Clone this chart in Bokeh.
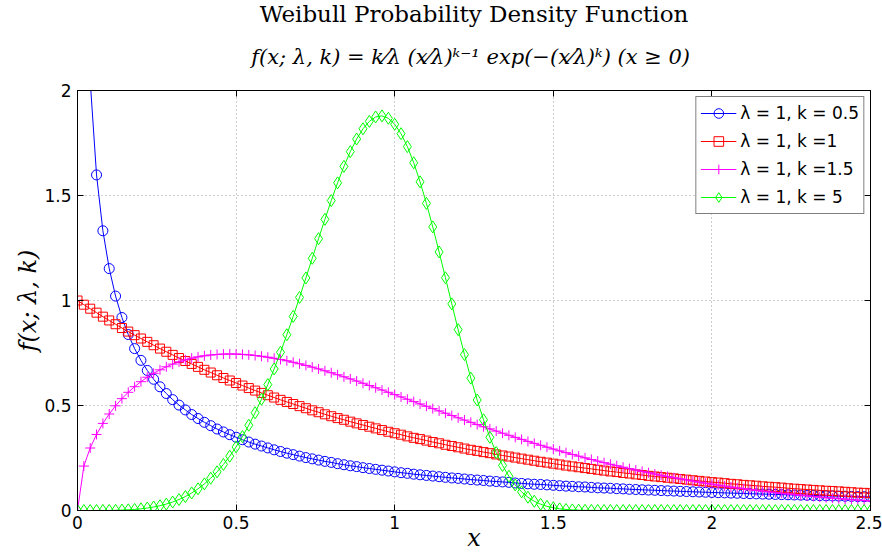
from bokeh.plotting import figure
from bokeh.models import Range1d, FixedTicker, LinearAxis, Title, CustomLabelingPolicy
from bokeh.embed import file_html
from bokeh.resources import INLINE

nan = float("nan")

x_values = [
    0.00, 0.02, 0.04, 0.06, 0.08, 0.10, 0.12, 0.14, 0.16, 0.18,
    0.20, 0.22, 0.24, 0.26, 0.28, 0.30, 0.32, 0.34, 0.36, 0.38,
    0.40, 0.42, 0.44, 0.46, 0.48, 0.50, 0.52, 0.54, 0.56, 0.58,
    0.60, 0.62, 0.64, 0.66, 0.68, 0.70, 0.72, 0.74, 0.76, 0.78,
    0.80, 0.82, 0.84, 0.86, 0.88, 0.90, 0.92, 0.94, 0.96, 0.98,
    1.00, 1.02, 1.04, 1.06, 1.08, 1.10, 1.12, 1.14, 1.16, 1.18,
    1.20, 1.22, 1.24, 1.26, 1.28, 1.30, 1.32, 1.34, 1.36, 1.38,
    1.40, 1.42, 1.44, 1.46, 1.48, 1.50, 1.52, 1.54, 1.56, 1.58,
    1.60, 1.62, 1.64, 1.66, 1.68, 1.70, 1.72, 1.74, 1.76, 1.78,
    1.80, 1.82, 1.84, 1.86, 1.88, 1.90, 1.92, 1.94, 1.96, 1.98,
    2.00, 2.02, 2.04, 2.06, 2.08, 2.10, 2.12, 2.14, 2.16, 2.18,
    2.20, 2.22, 2.24, 2.26, 2.28, 2.30, 2.32, 2.34, 2.36, 2.38,
    2.40, 2.42, 2.44, 2.46, 2.48, 2.50,
]

# lambda = 1, k = 0.5 (infinite at x = 0, not drawn)
y_k05 = [
    nan, 3.069, 2.047, 1.598, 1.332, 1.152, 1.021, 0.919, 0.838, 0.771,
    0.715, 0.667, 0.625, 0.589, 0.557, 0.528, 0.502, 0.479, 0.457, 0.438,
    0.420, 0.404, 0.388, 0.374, 0.361, 0.349, 0.337, 0.326, 0.316, 0.307,
    0.298, 0.289, 0.281, 0.273, 0.266, 0.259, 0.252, 0.246, 0.240, 0.234,
    0.229, 0.223, 0.218, 0.213, 0.209, 0.204, 0.200, 0.196, 0.192, 0.188,
    0.184, 0.180, 0.177, 0.173, 0.170, 0.167, 0.164, 0.161, 0.158, 0.155,
    0.153, 0.150, 0.147, 0.145, 0.143, 0.140, 0.138, 0.136, 0.134, 0.131,
    0.129, 0.127, 0.125, 0.124, 0.122, 0.120, 0.118, 0.116, 0.115, 0.113,
    0.112, 0.110, 0.108, 0.107, 0.106, 0.104, 0.103, 0.101, 0.100, 0.0987,
    0.0974, 0.0962, 0.0949, 0.0937, 0.0926, 0.0914, 0.0903, 0.0892, 0.0881, 0.0870,
    0.0860, 0.0849, 0.0839, 0.0829, 0.0820, 0.0810, 0.0801, 0.0792, 0.0782, 0.0774,
    0.0765, 0.0756, 0.0748, 0.0740, 0.0732, 0.0724, 0.0716, 0.0708, 0.0700, 0.0693,
    0.0686, 0.0678, 0.0671, 0.0664, 0.0657, 0.0651,
]

# lambda = 1, k = 1
y_k1 = [
    1.000, 0.980, 0.961, 0.942, 0.923, 0.905, 0.887, 0.869, 0.852, 0.835,
    0.819, 0.803, 0.787, 0.771, 0.756, 0.741, 0.726, 0.712, 0.698, 0.684,
    0.670, 0.657, 0.644, 0.631, 0.619, 0.607, 0.595, 0.583, 0.571, 0.560,
    0.549, 0.538, 0.527, 0.517, 0.507, 0.497, 0.487, 0.477, 0.468, 0.458,
    0.449, 0.440, 0.432, 0.423, 0.415, 0.407, 0.399, 0.391, 0.383, 0.375,
    0.368, 0.361, 0.353, 0.346, 0.340, 0.333, 0.326, 0.320, 0.313, 0.307,
    0.301, 0.295, 0.289, 0.284, 0.278, 0.273, 0.267, 0.262, 0.257, 0.252,
    0.247, 0.242, 0.237, 0.232, 0.228, 0.223, 0.219, 0.214, 0.210, 0.206,
    0.202, 0.198, 0.194, 0.190, 0.186, 0.183, 0.179, 0.176, 0.172, 0.169,
    0.165, 0.162, 0.159, 0.156, 0.153, 0.150, 0.147, 0.144, 0.141, 0.138,
    0.135, 0.133, 0.130, 0.127, 0.125, 0.122, 0.120, 0.118, 0.115, 0.113,
    0.111, 0.109, 0.106, 0.104, 0.102, 0.100, 0.098, 0.096, 0.094, 0.093,
    0.091, 0.089, 0.087, 0.085, 0.084, 0.082,
]

# lambda = 1, k = 1.5
y_k15 = [
    0.0, 0.2115, 0.2976, 0.3621, 0.4148, 0.4596, 0.4985, 0.5326, 0.5628, 0.5896,
    0.6134, 0.6346, 0.6533, 0.6699, 0.6844, 0.6971, 0.7080, 0.7174, 0.7252, 0.7316,
    0.7366, 0.7405, 0.7431, 0.7447, 0.7452, 0.7448, 0.7434, 0.7412, 0.7382, 0.7345,
    0.7300, 0.7249, 0.7192, 0.7129, 0.7060, 0.6987, 0.6909, 0.6827, 0.6742, 0.6652,
    0.6560, 0.6464, 0.6366, 0.6266, 0.6163, 0.6059, 0.5953, 0.5846, 0.5737, 0.5628,
    0.5518, 0.5408, 0.5297, 0.5185, 0.5074, 0.4963, 0.4852, 0.4742, 0.4632, 0.4522,
    0.4414, 0.4306, 0.4199, 0.4093, 0.3988, 0.3885, 0.3782, 0.3681, 0.3581, 0.3483,
    0.3387, 0.3291, 0.3198, 0.3105, 0.3015, 0.2926, 0.2839, 0.2754, 0.2670, 0.2588,
    0.2507, 0.2429, 0.2352, 0.2277, 0.2203, 0.2132, 0.2062, 0.1993, 0.1927, 0.1862,
    0.1799, 0.1737, 0.1677, 0.1619, 0.1562, 0.1507, 0.1453, 0.1401, 0.1351, 0.1301,
    0.1254, 0.1208, 0.1163, 0.1119, 0.1077, 0.1036, 0.0997, 0.0959, 0.0922, 0.0886,
    0.0851, 0.0818, 0.0786, 0.0754, 0.0724, 0.0695, 0.0667, 0.0640, 0.0614, 0.0588,
    0.0564, 0.0541, 0.0518, 0.0497, 0.0476, 0.0456,
]

# lambda = 1, k = 5
y_k5 = [
    0.0, 0.0, 0.0, 0.0001, 0.0002, 0.0005, 0.0010, 0.0019, 0.0033, 0.0052,
    0.0080, 0.0117, 0.0166, 0.0228, 0.0307, 0.0404, 0.0523, 0.0665, 0.0835, 0.1034,
    0.1267, 0.1536, 0.1843, 0.2193, 0.2587, 0.3029, 0.3519, 0.4061, 0.4654, 0.5299,
    0.5995, 0.6741, 0.7535, 0.8371, 0.9244, 1.0148, 1.1073, 1.2010, 1.2945, 1.3866,
    1.4758, 1.5603, 1.6386, 1.7087, 1.7689, 1.8176, 1.8530, 1.8739, 1.8791, 1.8677,
    1.8394, 1.7943, 1.7327, 1.6558, 1.5651, 1.4626, 1.3503, 1.2313, 1.1084, 0.9838,
    0.8612, 0.7425, 0.6302, 0.5263, 0.4321, 0.3486, 0.2760, 0.2144, 0.1631, 0.1216,
    0.0887, 0.0632, 0.0440, 0.0299, 0.0198, 0.0128, 0.0080, 0.0049, 0.0029, 0.0017,
    0.0009, 0.0005, 0.0003, 0.0001, 0.0001, 0.0, 0.0, 0.0, 0.0, 0.0,
    0.0, 0.0, 0.0, 0.0, 0.0, 0.0, 0.0, 0.0, 0.0, 0.0,
    0.0, 0.0, 0.0, 0.0, 0.0, 0.0, 0.0, 0.0, 0.0, 0.0,
    0.0, 0.0, 0.0, 0.0, 0.0, 0.0, 0.0, 0.0, 0.0, 0.0,
    0.0, 0.0, 0.0, 0.0, 0.0, 0.0,
]

series_labels = ["λ = 1, k = 0.5", "λ = 1, k =1", "λ = 1, k =1.5", "λ = 1, k = 5"]

x_ticks = [0, 0.5, 1, 1.5, 2, 2.5]
x_tick_labels = ["0", "0.5", "1", "1.5", "2", "2.5"]
y_ticks = [0, 0.5, 1, 1.5, 2]
y_tick_labels = ["0", "0.5", "1", "1.5", "2"]

title_line1 = "Weibull Probability Density Function"
title_line2 = "f(x; λ, k) = k⁄λ (x⁄λ)ᵏ⁻¹ exp(−(x⁄λ)ᵏ)  (x ≥ 0)"
x_label = "x"
y_label = "f(x; λ, k)"

p = figure(width=882, height=556, output_backend="svg", toolbar_location=None,
           title=None, x_range=Range1d(0, 2.5), y_range=Range1d(0, 2),
           min_border_left=77, min_border_right=12, min_border_top=90,
           min_border_bottom=46)
p.background_fill_color = "white"
p.border_fill_color = "white"
p.outline_line_color = "black"
p.outline_line_width = 1

tick_font = "DejaVu Sans"
for ax, ticks, labels in ((p.xaxis[0], x_ticks, x_tick_labels), (p.yaxis[0], y_ticks, y_tick_labels)):
    ax.ticker = FixedTicker(ticks=ticks)
    ax.major_label_overrides = {t: l for t, l in zip(ticks, labels)}
    ax.major_label_text_font = tick_font
    ax.major_label_text_font_size = "17px"
    ax.major_label_text_color = "black"
    ax.major_tick_in = 6
    ax.major_tick_out = 0
    ax.minor_tick_in = 0
    ax.minor_tick_out = 0
    ax.axis_line_color = "black"
    ax.major_tick_line_color = "black"
    ax.axis_label_text_font = "DejaVu Serif"
    ax.axis_label_text_font_style = "italic"
    ax.axis_label_text_font_size = "24px"
    ax.axis_label_text_color = "black"

p.xaxis[0].axis_label = x_label
p.yaxis[0].axis_label = y_label
p.xaxis[0].major_label_standoff = 5
p.yaxis[0].major_label_standoff = 6
p.xaxis[0].axis_label_standoff = -8
p.yaxis[0].axis_label_standoff = -1

top_axis = LinearAxis(ticker=FixedTicker(ticks=x_ticks), major_label_text_font_size="1px",
                      major_label_policy=CustomLabelingPolicy(code="for (const i of indices) { indices.unset(i) }\nreturn indices"),
                      major_tick_in=6, major_tick_out=0, minor_tick_in=0, minor_tick_out=0,
                      major_label_standoff=0)
right_axis = LinearAxis(ticker=FixedTicker(ticks=y_ticks), major_label_text_font_size="1px",
                        major_label_policy=CustomLabelingPolicy(code="for (const i of indices) { indices.unset(i) }\nreturn indices"),
                        major_tick_in=6, major_tick_out=0, minor_tick_in=0, minor_tick_out=0,
                        major_label_standoff=0)
p.add_layout(top_axis, "above")
p.add_layout(right_axis, "right")

p.grid.grid_line_color = "#9a9a9a"
p.grid.grid_line_dash = "1 3"
p.grid.grid_line_width = 1
p.xgrid.ticker = FixedTicker(ticks=x_ticks)
p.ygrid.ticker = FixedTicker(ticks=y_ticks)

p.add_layout(Title(text=title_line2, align="center", text_font="DejaVu Serif",
                   text_font_size="21px", text_font_style="italic", text_color="black",
                   standoff=35), "above")
p.add_layout(Title(text=title_line1, align="center", text_font="DejaVu Serif",
                   text_font_size="23px", text_font_style="normal", text_color="black",
                   standoff=-3), "above")

colors = ["#0000ff", "#ff0000", "#ff00ff", "#00ff00"]
markers = ["circle", "square", "cross", "diamond"]
sizes = [10, 9, 10, 12]
series = [y_k05, y_k1, y_k15, y_k5]

for ys, c, m, s, lab in zip(series, colors, markers, sizes, series_labels):
    p.line(x_values, ys, line_color=c, line_width=1, legend_label=lab)
    p.scatter(x_values, ys, marker=m, size=s, line_color=c, fill_color=None,
              line_width=1, legend_label=lab)

lg = p.legend[0]
lg.location = "top_right"
lg.margin = 6
lg.padding = 4
lg.spacing = 4
lg.border_line_color = "black"
lg.border_line_width = 1
lg.background_fill_color = "white"
lg.background_fill_alpha = 1
lg.label_text_font = "DejaVu Sans"
lg.label_text_font_size = "17px"
lg.label_text_color = "black"
lg.glyph_width = 36
lg.glyph_height = 24
lg.label_height = 24
lg.label_standoff = 4

open("out.html", "w").write(file_html(p, INLINE))
